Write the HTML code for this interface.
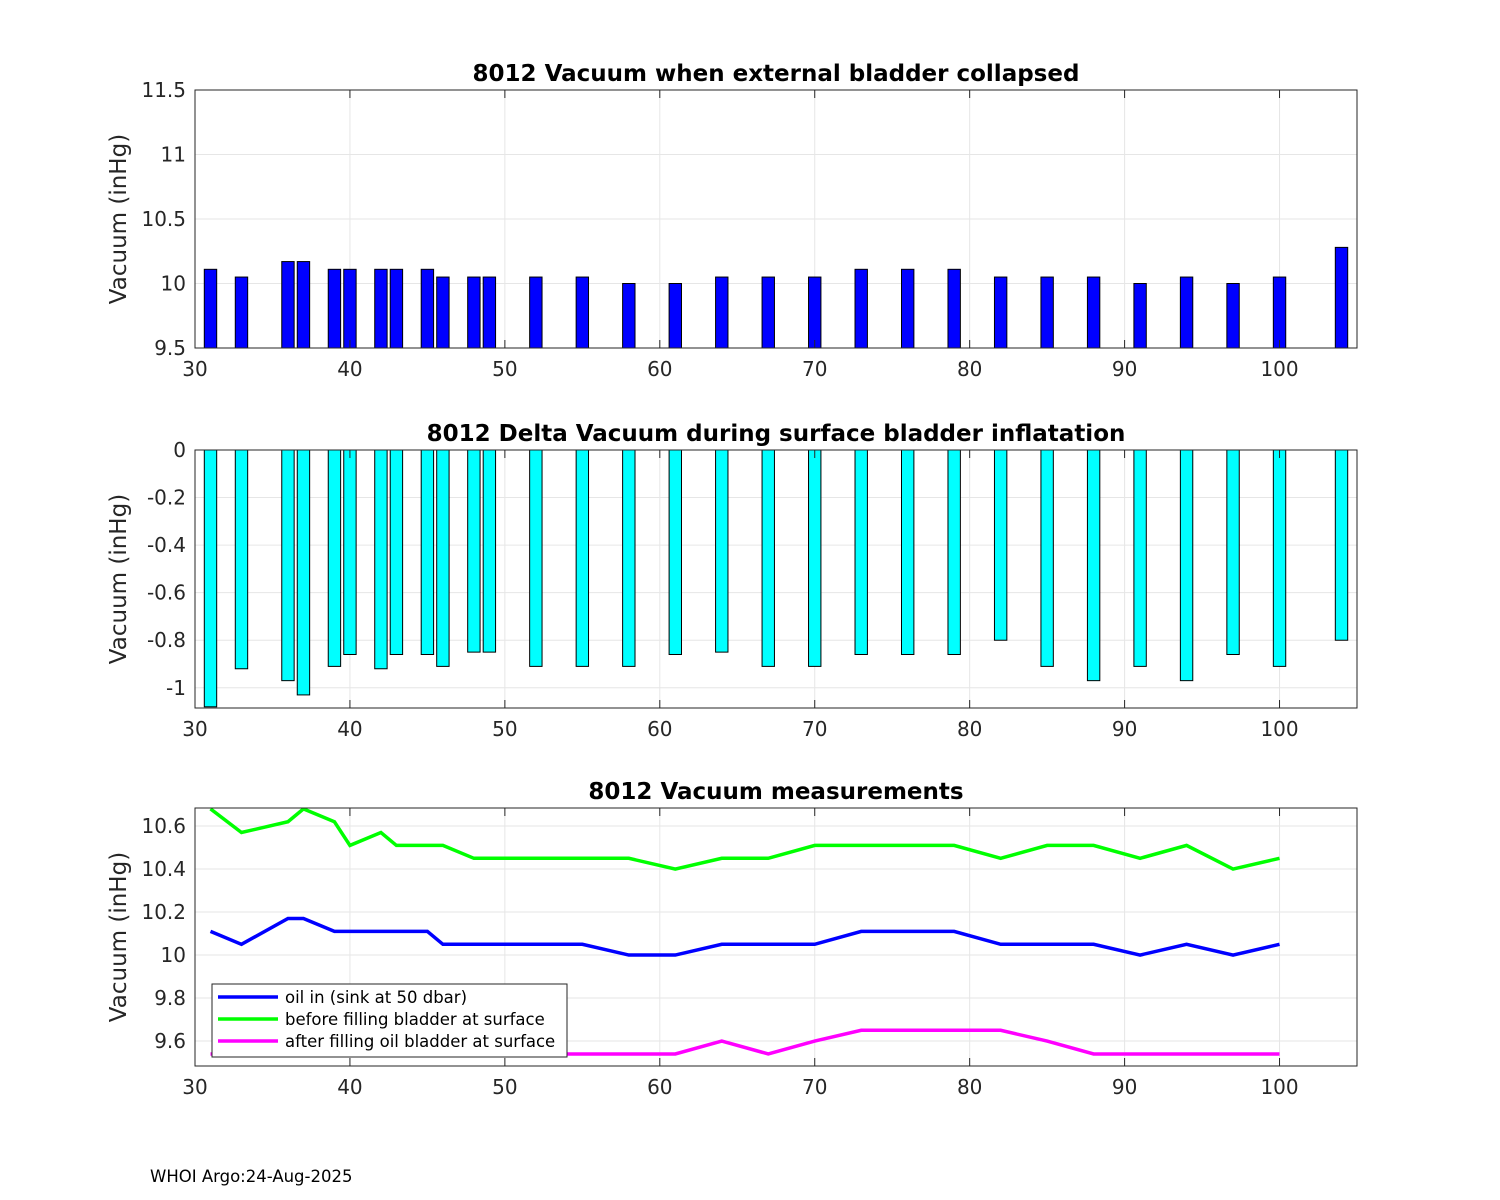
<!DOCTYPE html>
<html><head><meta charset="utf-8"><style>
body{margin:0;background:#fff;}
svg{display:block;font-family:"DejaVu Sans","Liberation Sans",sans-serif;}
</style></head><body>
<svg id="c" width="1500" height="1200" xmlns="http://www.w3.org/2000/svg"></svg>
<script>
const xs=[31,33,36,37,39,40,42,43,45,46,48,49,52,55,58,61,64,67,70,73,76,79,82,85,88,91,94,97,100,104];
const vac=[10.11,10.05,10.17,10.17,10.11,10.11,10.11,10.11,10.11,10.05,10.05,10.05,10.05,10.05,10.0,10.0,10.05,10.05,10.05,10.11,10.11,10.11,10.05,10.05,10.05,10.0,10.05,10.0,10.05,10.28];
const delta=[-1.08,-0.92,-0.97,-1.03,-0.91,-0.86,-0.92,-0.86,-0.86,-0.91,-0.85,-0.85,-0.91,-0.91,-0.91,-0.86,-0.85,-0.91,-0.91,-0.86,-0.86,-0.86,-0.80,-0.91,-0.97,-0.91,-0.97,-0.86,-0.91,-0.80];
const lx=[31,33,36,37,39,40,42,43,45,46,48,49,52,55,58,61,64,67,70,73,76,79,82,85,88,91,94,97,100];
const oilIn=[10.11,10.05,10.17,10.17,10.11,10.11,10.11,10.11,10.11,10.05,10.05,10.05,10.05,10.05,10.0,10.0,10.05,10.05,10.05,10.11,10.11,10.11,10.05,10.05,10.05,10.0,10.05,10.0,10.05];
const before=[10.68,10.57,10.62,10.68,10.62,10.51,10.57,10.51,10.51,10.51,10.45,10.45,10.45,10.45,10.45,10.40,10.45,10.45,10.51,10.51,10.51,10.51,10.45,10.51,10.51,10.45,10.51,10.40,10.45];
const after=[9.54,9.54,9.54,9.54,9.54,9.54,9.54,9.54,9.54,9.54,9.54,9.54,9.54,9.54,9.54,9.54,9.60,9.54,9.60,9.65,9.65,9.65,9.65,9.60,9.54,9.54,9.54,9.54,9.54];
const xticks=[30,40,50,60,70,80,90,100];
const y1ticks=[9.5,10,10.5,11,11.5];
const y2ticks=[-1,-0.8,-0.6,-0.4,-0.2,0];
const y3ticks=[9.6,9.8,10,10.2,10.4,10.6];
const svg=document.getElementById('c');const NS='http://www.w3.org/2000/svg';
function el(t,a,p){const e=document.createElementNS(NS,t);for(const k in a)e.setAttribute(k,a[k]);(p||svg).appendChild(e);return e;}
const L=195,R=1357;
const X=v=>L+(v-30)/(105-30)*(R-L);
function axes(top,bot,ymin,ymax,yt,title,name){
 const Y=v=>bot-(v-ymin)/(ymax-ymin)*(bot-top);
 const g=el('g',{});
 el('rect',{x:L,y:top,width:R-L,height:bot-top,fill:'#fff'},g);
 xticks.forEach(t=>{el('line',{x1:X(t),x2:X(t),y1:top,y2:bot,stroke:'#e6e6e6'},g);
  const tx=el('text',{x:X(t),y:bot+28,'text-anchor':'middle','font-size':20,fill:'#262626'},g);tx.textContent=t;});
 yt.forEach(t=>{el('line',{x1:L,x2:R,y1:Y(t),y2:Y(t),stroke:'#e6e6e6'},g);
  const tx=el('text',{x:L-9,y:Y(t)+7,'text-anchor':'end','font-size':20,fill:'#262626'},g);tx.textContent=t;});
 const tt=el('text',{x:(L+R)/2,y:top-9,'text-anchor':'middle','font-size':23,'font-weight':'bold',fill:'#000'},g);tt.textContent=title;
 
 const yl=el('text',{x:0,y:0,transform:`translate(${L-69},${(top+bot)/2}) rotate(-90)`,'text-anchor':'middle','font-size':23,fill:'#262626'},g);yl.textContent='Vacuum (inHg)';
 
 return {Y,g,top,bot};
}
function frame(a){
 el('rect',{x:L,y:a.top,width:R-L,height:a.bot-a.top,fill:'none',stroke:'#262626','stroke-width':1},a.g);
 xticks.forEach(t=>{el('line',{x1:X(t),x2:X(t),y1:a.bot,y2:a.bot-8,stroke:'#262626'},a.g);el('line',{x1:X(t),x2:X(t),y1:a.top,y2:a.top+8,stroke:'#262626'},a.g);});
}
const a1=axes(90,348,9.5,11.5,y1ticks,'8012 Vacuum when external bladder collapsed','vacuum-bar-chart');
const bw=0.8*(X(1)-X(0));
xs.forEach((x,i)=>{const r=el('rect',{x:X(x)-bw/2,y:a1.Y(vac[i]),width:bw,height:a1.Y(9.5)-a1.Y(vac[i]),fill:'#0000ff',stroke:'#000','stroke-width':1},a1.g);
 });
frame(a1);
const a2=axes(450,708,-1.085,0,y2ticks,'8012 Delta Vacuum during surface bladder inflatation','delta-vacuum-bar-chart');
xs.forEach((x,i)=>{const r=el('rect',{x:X(x)-bw/2,y:a2.Y(0),width:bw,height:a2.Y(delta[i])-a2.Y(0),fill:'#00ffff',stroke:'#000','stroke-width':1},a2.g);
 });
frame(a2);
const a3=axes(808,1066,9.484,10.684,y3ticks,'8012 Vacuum measurements','vacuum-line-chart');
const cp=el('clipPath',{id:'cp3'},a3.g);el('rect',{x:L,y:808,width:R-L,height:258},cp);
function line(vals,col,name){const p=el('polyline',{points:lx.map((x,i)=>X(x)+','+a3.Y(vals[i])).join(' '),fill:'none',stroke:col,'stroke-width':3.5,'clip-path':'url(#cp3)'},a3.g);
 }
line(oilIn,'#0000ff','oil-in-line');line(before,'#00ff00','before-filling-line');line(after,'#ff00ff','after-filling-line');
frame(a3);
const lg=el('g',{});
el('rect',{x:212,y:984,width:355,height:73,fill:'#fff',stroke:'#262626','stroke-width':1},lg);
[['oil in (sink at 50 dbar)','#0000ff'],['before filling bladder at surface','#00ff00'],['after filling oil bladder at surface','#ff00ff']].forEach((e,i)=>{
 const y=997+i*22;const eg=el('g',{},lg);
 el('line',{x1:218,x2:278,y1:y,y2:y,stroke:e[1],'stroke-width':3.5},eg);
 const t=el('text',{x:285,y:y+6,'font-size':16.5,fill:'#000'},eg);t.textContent=e[0];});
const ft=el('text',{x:150,y:1182,'font-size':16.5,fill:'#000'});ft.textContent='WHOI Argo:24-Aug-2025';

</script>
</body></html>
